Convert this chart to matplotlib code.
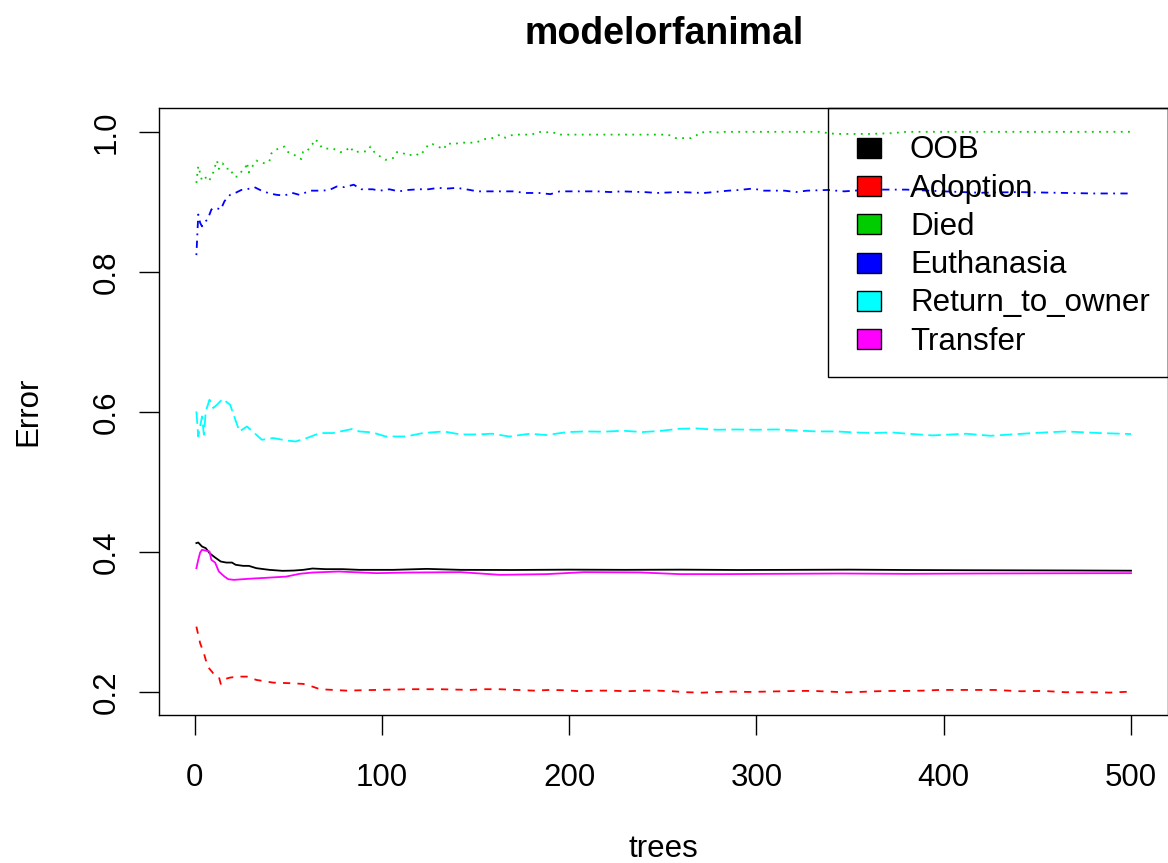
import matplotlib
matplotlib.use("Agg")
import matplotlib.pyplot as plt
from matplotlib.patches import Rectangle

# Error rates (tree number, error)
oob_trees = [1, 2, 4, 6, 8, 11, 14, 17, 20, 22, 26, 29, 33, 37, 40, 47, 53, 58, 63, 70,
             79, 88, 106, 124, 142, 170, 200, 230, 260, 290, 320, 350, 380, 410, 440, 470, 500]
oob_err = [0.4129, 0.4137, 0.408, 0.4057, 0.3986, 0.3923, 0.3866, 0.3851, 0.3851, 0.3819,
           0.3804, 0.3804, 0.3771, 0.3757, 0.3747, 0.3733, 0.3737, 0.3747, 0.3766, 0.3757,
           0.3757, 0.3747, 0.3747, 0.3761, 0.3747, 0.3745, 0.3750, 0.3747, 0.3750, 0.3745,
           0.3747, 0.3750, 0.3745, 0.3742, 0.3740, 0.3738, 0.3735]

adoption_trees = [1, 3, 5, 7, 10, 13, 14, 16, 19, 23, 28, 33, 42, 51, 58, 63, 67, 81, 97,
                  115, 131, 147, 155, 163, 172, 181, 190, 198, 206, 214, 222, 231, 239, 247,
                  255, 263, 271, 280, 288, 296, 305, 314, 322, 330, 339, 347, 355, 364, 372,
                  381, 389, 398, 413, 427, 441, 453, 465, 477, 489, 500]
adoption_err = [0.2937, 0.270, 0.2557, 0.2366, 0.2271, 0.2223, 0.2119, 0.2186, 0.2209, 0.2223,
                0.2223, 0.2176, 0.2137, 0.2129, 0.2119, 0.208, 0.2043, 0.2023, 0.2033, 0.2043,
                0.2043, 0.2033, 0.2043, 0.2043, 0.2033, 0.2023, 0.2033, 0.2028, 0.2014, 0.2023,
                0.2023, 0.2014, 0.2023, 0.2023, 0.2014, 0.2000, 0.1994, 0.2004, 0.2009, 0.2004,
                0.2009, 0.2014, 0.2019, 0.2019, 0.2009, 0.1999, 0.2004, 0.2014, 0.2019, 0.2019,
                0.2023, 0.2033, 0.2033, 0.2033, 0.2014, 0.2019, 0.2000, 0.2000, 0.1995, 0.2009]

died_trees = [1, 2, 3, 4, 5, 7, 8, 10, 11, 12, 13, 15, 17, 19, 21, 23, 25, 27, 28, 29, 31,
              33, 35, 38, 40, 41, 43, 45, 48, 50, 54, 57, 58, 60, 62, 63, 64, 66, 68, 71,
              74, 78, 81, 83, 85, 89, 92, 94, 96, 99, 102, 106, 108, 111, 114, 118, 120, 123,
              125, 127, 130, 133, 135, 138, 141, 143, 150, 155, 157, 160, 163, 166, 169, 172,
              180, 184, 187, 191, 194, 200, 230, 250, 254, 257, 265, 268, 270, 275, 280, 283,
              335, 338, 343, 360, 372, 380, 500]
died_err = [0.927, 0.951, 0.941, 0.930, 0.933, 0.936, 0.931, 0.942, 0.951, 0.959, 0.947,
            0.955, 0.947, 0.948, 0.936, 0.936, 0.943, 0.947, 0.956, 0.942, 0.951, 0.959, 0.956,
            0.955, 0.958, 0.969, 0.974, 0.976, 0.979, 0.971, 0.966, 0.961, 0.9715, 0.9715,
            0.980, 0.9825, 0.989, 0.986, 0.977, 0.976, 0.976, 0.971, 0.9735, 0.979, 0.971,
            0.972, 0.972, 0.979, 0.971, 0.965, 0.960, 0.9625, 0.971, 0.970, 0.966, 0.969,
            0.966, 0.974, 0.9825, 0.9825, 0.979, 0.975, 0.984, 0.982, 0.984, 0.9845, 0.9845,
            0.9896, 0.990, 0.9915, 0.996, 0.9915, 0.995, 0.996, 0.996, 1.0, 0.999, 1.0, 0.996,
            0.996, 0.996, 0.996, 0.995, 0.991, 0.991, 0.995, 0.999, 1.0, 0.999, 1.0, 1.0, 0.998,
            0.997, 0.997, 0.998, 1.0, 1.0]

euth_trees = [1, 2, 3, 4, 5, 7, 9, 10, 12, 14, 16, 19, 22, 25, 28, 32, 35, 40, 44, 48, 52,
              56, 62, 68, 72, 76, 80, 85, 89, 95, 99, 104, 109, 114, 120, 125, 130, 135, 140,
              146, 151, 160, 170, 177, 184, 190, 195, 205, 215, 222, 228, 240, 247, 258, 272,
              285, 291, 298, 304, 315, 321, 327, 338, 347, 360, 380, 400, 420, 440, 460, 480, 500]
euth_err = [0.824, 0.882, 0.870, 0.865, 0.870, 0.875, 0.889, 0.891, 0.891, 0.889, 0.901,
            0.910, 0.913, 0.917, 0.918, 0.921, 0.917, 0.912, 0.910, 0.909, 0.913, 0.910, 0.916,
            0.916, 0.917, 0.922, 0.921, 0.9245, 0.918, 0.918, 0.916, 0.918, 0.915, 0.917, 0.918,
            0.918, 0.920, 0.919, 0.920, 0.9175, 0.915, 0.915, 0.915, 0.9127, 0.9127, 0.911,
            0.915, 0.915, 0.915, 0.914, 0.915, 0.914, 0.9127, 0.914, 0.9127, 0.916, 0.917,
            0.919, 0.916, 0.916, 0.914, 0.916, 0.917, 0.915, 0.9175, 0.9175, 0.915, 0.913,
            0.914, 0.913, 0.912, 0.912]

rto_trees = [1, 2, 4, 5, 6, 8, 10, 12, 15, 19, 24, 28, 30, 36, 42, 49, 54, 60, 67, 74, 84,
             88, 95, 102, 113, 122, 133, 142, 150, 159, 168, 179, 188, 199, 209, 218, 229,
             239, 248, 259, 268, 279, 289, 300, 311, 321, 332, 343, 352, 362, 372, 381, 394,
             412, 425, 448, 465, 483, 500]
rto_err = [0.6009, 0.5651, 0.5937, 0.5676, 0.6009, 0.6176, 0.6057, 0.6104, 0.6186, 0.6104,
           0.5723, 0.5794, 0.5747, 0.5604, 0.5629, 0.5594, 0.558, 0.5629, 0.570, 0.570,
           0.5757, 0.5723, 0.5709, 0.5651, 0.5651, 0.570, 0.5723, 0.568, 0.568, 0.569, 0.5651,
           0.569, 0.5671, 0.5714, 0.5723, 0.5719, 0.5733, 0.5714, 0.5729, 0.5761, 0.5766,
           0.5747, 0.5751, 0.5747, 0.5751, 0.5737, 0.5723, 0.5723, 0.5709, 0.570, 0.5709,
           0.569, 0.5666, 0.569, 0.5661, 0.570, 0.5723, 0.570, 0.5686]

transfer_trees = [1, 2, 3, 4, 8, 9, 11, 13, 16, 18, 21, 26, 31, 38, 49, 56, 63, 77, 97, 115,
                  142, 163, 188, 208, 238, 259, 282, 309, 345, 380, 420, 460, 500]
transfer_err = [0.3771, 0.389, 0.3994, 0.4033, 0.4009, 0.389, 0.3851, 0.3723, 0.3651, 0.3614,
                0.3604, 0.3614, 0.3623, 0.3633, 0.3651, 0.369, 0.3709, 0.3723, 0.370, 0.3709,
                0.3714, 0.3676, 0.3686, 0.3714, 0.371, 0.3686, 0.3686, 0.369, 0.3695, 0.369,
                0.3695, 0.3698, 0.370]

labels = ["OOB", "Adoption", "Died", "Euthanasia", "Return_to_owner", "Transfer"]
colors = ["black", "#FF0000", "#00CD00", "#0000FF", "#00FFFF", "#FF00FF"]
dashes = [None, (5.2, 5.2), (1.3, 3.9), (1.3, 3.9, 5.2, 3.9), (9.0, 3.9), None]

series = [(oob_trees, oob_err), (adoption_trees, adoption_err), (died_trees, died_err),
          (euth_trees, euth_err), (rto_trees, rto_err), (transfer_trees, transfer_err)]

plt.rcParams.update({
    'font.family': ['Liberation Sans', 'DejaVu Sans'],
    'font.size': 22.5,
    'lines.scale_dashes': False,
})

W, H = 1168, 863
fig = plt.figure(figsize=(W / 100, H / 100), dpi=100)
ax = fig.add_axes([159 / W, 1 - 715 / H, (1168.4 - 159) / W, (715 - 108) / H])

for (t, e), col, d in zip(series, colors, dashes):
    line, = ax.plot(t, e, color=col, lw=1.3)
    if d is not None:
        line.set_dashes(d)

ax.set_xlim(-18.96, 519.96)
ax.set_ylim(0.1675, 1.034)
ax.set_xticks([0, 100, 200, 300, 400, 500])
ax.set_yticks([0.2, 0.4, 0.6, 0.8, 1.0])
ax.set_yticklabels(["0.2", "0.4", "0.6", "0.8", "1.0"])
ax.tick_params(axis='both', direction='out', length=14.4, width=1, labelsize=22.5)
ax.tick_params(axis='x', pad=20)
ax.tick_params(axis='y', pad=17.3)
for lbl in ax.get_yticklabels():
    lbl.set_rotation(90)
    lbl.set_rotation_mode('anchor')
    lbl.set_ha('center')
    lbl.set_va('baseline')
for sp in ax.spines.values():
    sp.set_linewidth(1)

# Title and axis labels, placed like R's margins
fig.text(663.7 / W, 1 - 43.5 / H, "modelorfanimal", ha='center', va='baseline',
         fontsize=27, fontweight='bold')
fig.text(663.7 / W, 1 - 857 / H, "trees", ha='center', va='baseline', fontsize=22.5)
fig.text(36.7 / W, 1 - 411.5 / H, "Error", rotation=90, rotation_mode='anchor',
         ha='center', va='baseline', fontsize=22.5)

# Legend box drawn the way R's legend(fill=...) lays it out
fig.add_artist(Rectangle((828 / W, 1 - 377 / H), (1168 - 828) / W, (377 - 108) / H,
                         transform=fig.transFigure, fill=False, edgecolor='black', lw=1))
for i, (lab, col) in enumerate(zip(labels, colors)):
    cy = 148 + i * 38.2
    fig.add_artist(Rectangle((857 / W, 1 - (cy + 10) / H), 24 / W, 20 / H,
                             transform=fig.transFigure, facecolor=col,
                             edgecolor='black', lw=1))
    fig.text(910 / W, 1 - (cy + 10.5) / H, lab, ha='left', va='baseline', fontsize=22.5)

plt.savefig("out.png", dpi=100)
